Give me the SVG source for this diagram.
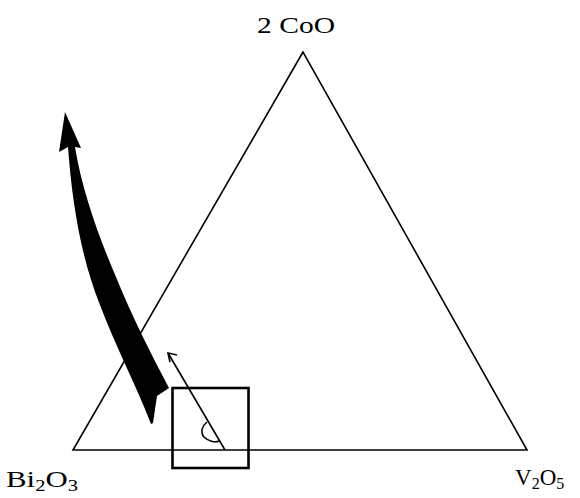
<svg xmlns="http://www.w3.org/2000/svg" width="580" height="498" viewBox="0 0 580 498">
<style>
.ln{fill:none;stroke:#000;stroke-width:1.6;stroke-linejoin:miter}
.box{fill:none;stroke:#000;stroke-width:2.6}
.lbl{font-family:"Liberation Serif",serif;fill:#000}
</style>
<rect width="580" height="498" fill="#fff"/>
<g id="triangle">
<polygon class="ln" points="303,52 73,450 527,450"/>
</g>
<g id="box">
<rect class="box" x="172.5" y="388" width="76" height="80"/>
</g>
<g id="connectors">
<path id="big-arrow" fill="#000" d="M65,112 L59,152 L68,147 C72,200 80,255 100,305 C115,345 136,385 151,424 L153,423 L157,396 L169,388 C150,352 130,312 116,277 C98,235 82,190 75,147 L81,148 Z"/>
<g id="small-arrow">
<line class="ln" x1="225" y1="450" x2="168" y2="353"/>
<polyline class="ln" points="177,355 168,353 170,362"/>
</g>
<path class="ln" d="M207,422 C202,426 200,432 204,437 C208,441 215,443 219,441"/>
</g>
<g id="labels">
<text class="lbl" x="257" y="33" font-size="24" textLength="78" lengthAdjust="spacingAndGlyphs">2 CoO</text>
<text class="lbl" x="6" y="487" font-size="24" textLength="72" lengthAdjust="spacingAndGlyphs">Bi<tspan font-size="16" dy="4">2</tspan><tspan dy="-4">O</tspan><tspan font-size="16" dy="4">3</tspan></text>
<text class="lbl" x="515" y="485" font-size="23">V<tspan font-size="16" dy="4">2</tspan><tspan dy="-4">O</tspan><tspan font-size="16" dy="4">5</tspan></text>
</g>
</svg>
